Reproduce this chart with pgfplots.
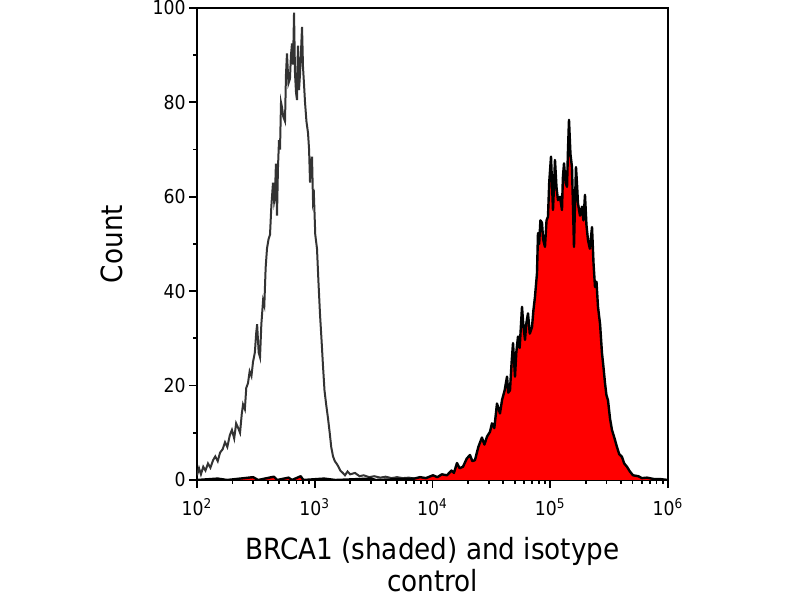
\documentclass[border=0pt]{standalone}
\usepackage{pgfplots}
\usepackage{pgfplotstable}
\pgfplotsset{compat=1.18}
\usepackage{fontspec}
\setmainfont{DejaVu Sans Condensed}

\pgfplotstableread{
x y
100 1
104 2.5
108 1.2
113 2.8
118 2
124 3.5
130 2.6
137 4.2
143 5
150 4
157 5.8
165 6.5
173 8
181 7
190 9.5
198 10.6
207 8.8
215 12
224 11
232 10
240 14
246 16
255 15
262 19.5
271 20.5
280 23
290 22
299 25
310 27
318 31
324 33
334 27
343 26
352 33
364 38
373 37
383 45
393 49
405 51
417 52
428 58
442 63
452 59
459 60
468 67
478 56
487 66
497 72
507 70
517 80
527 79
540 77
559 76
570 86
581 90.4
598 84
616 85
628 90
641 92.5
654 88
667 99
680 86
694 82
707 80.5
714 88
721 92
735 82.6
750 86
765 91
780 96
795 87.5
810 84
827 80
850 76
877 73.5
895 70
912 63
930 67
948 68.5
967 59
985 60
1010 52
1045 49
1075 42
1109 35
1140 30
1176 24
1210 19
1250 16
1297 13
1340 10
1380 7
1430 5
1480 4
1530 3.5
1575 3
1650 2
1730 1.5
1806 1
1900 1.8
2000 1.2
2197 1.5
2400 0.8
2600 1.0
2900 0.6
3200 0.8
3600 0.5
4000 0.7
4500 0.4
5000 0.6
5600 0.4
6300 0.5
7000 0.3
8000 0.5
9000 0.3
10000 0.4
12000 0.2
15000 0
}\isotype

\pgfplotstableread{
x y
100 0
150 0.3
180 0
300 0.6
330 0
450 0.7
480 0
600 0.5
640 0
760 0.8
800 0
1200 0.3
1500 0
3000 0.3
3300 0
7000 0.3
7834 0.6
8800 0.4
10090 1
11000 0.6
12000 1.2
13270 1
14500 2
15200 1.5
16140 3.6
17000 2.5
18150 2.8
19500 4.5
20800 5.3
21800 4
22940 4.2
24500 7
26300 9
27600 7.5
29030 9.2
30760 10.2
32000 12
33500 11
35300 16.2
37420 14.1
39000 17
41000 19
42950 21.9
44000 18.5
45510 19
47000 25
48290 29
50200 21.9
51500 27
53240 30.4
55000 28
57570 36.7
59000 33
61050 29.7
62500 33
64750 35.3
67000 31
70000 32.4
72000 36
74190 38.8
77170 43.8
78700 52.3
80500 50
82500 55
85100 54.5
87000 51
90200 49.4
93000 55
95700 55.8
98000 63
101500 68.5
105500 57.2
107500 62
109700 67.8
113000 62
116300 59.3
121000 60
125800 57.2
128000 64
130900 67.1
135000 63
138800 62.1
141500 70
144300 76.3
148500 69
153000 66.3
156000 58
159100 49.4
162000 58
165400 66.3
168500 63
172000 58.6
179000 56
186000 57.9
191500 55
197300 60.4
203000 54
209300 50.8
217000 49
226300 53.6
233000 46
239900 40.9
247000 42
254400 36.7
265000 33
275000 26.9
283000 24
291600 20.6
300000 18
309300 16.9
322000 13
334400 10.6
350000 9
368700 7.0
385000 5.5
406400 4.9
425000 3.5
448300 2.8
475000 1.8
504300 1
560000 0.8
600000 0.4
663000 0.5
760000 0.2
855000 0.2
1000000 0
}\brca

\begin{document}
\begin{tikzpicture}
\useasboundingbox (-98.5pt,-60pt) rectangle (301.5pt,240pt);
\begin{axis}[
  at={(0,0)}, anchor=south west,
  scale only axis,
  width=235.5pt, height=236pt,
  xmode=log,
  xmin=100, xmax=1000000,
  ymin=0, ymax=100,
  axis line style={line width=1pt, black},
  tick style={line width=0.9pt, black},
  tick align=outside,
  xtick pos=bottom, ytick pos=left,
  major tick length=4pt,
  minor tick length=2pt,
  xtick={100,1000,10000,100000,1000000},
  xticklabels={10\textsuperscript{2},10\textsuperscript{3},10\textsuperscript{4},10\textsuperscript{5},10\textsuperscript{6}},
  ytick={0,20,40,60,80,100},
  minor ytick={10,30,50,70,90},
  /pgf/number format/assume math mode=true,
  ticklabel style={font=\fontsize{9.6}{11}\selectfont},
  yticklabel style={inner sep=1.5pt},
  xticklabel style={inner sep=1.5pt, yshift=-3.5pt},
  xlabel={BRCA1 (shaded) and isotype\\control},
  ylabel={Count},
  label style={font=\fontsize{14.6}{16}\selectfont},
  xlabel style={at={(axis description cs:0.5,-0.1208)}, anchor=north, inner sep=0pt, align=center},
  ylabel style={at={(axis description cs:-0.157,0.5)}, anchor=south, inner sep=0pt},
]
\addplot[draw={rgb,255:red,51;green,51;blue,51}, line width=1pt, mark=none] table {\isotype};
\addplot[fill=red, draw=none, mark=none] table {\brca} \closedcycle;
\addplot[draw=black, line width=1.2pt, mark=none, line join=round] table {\brca};
\end{axis}
\end{tikzpicture}
\end{document}
